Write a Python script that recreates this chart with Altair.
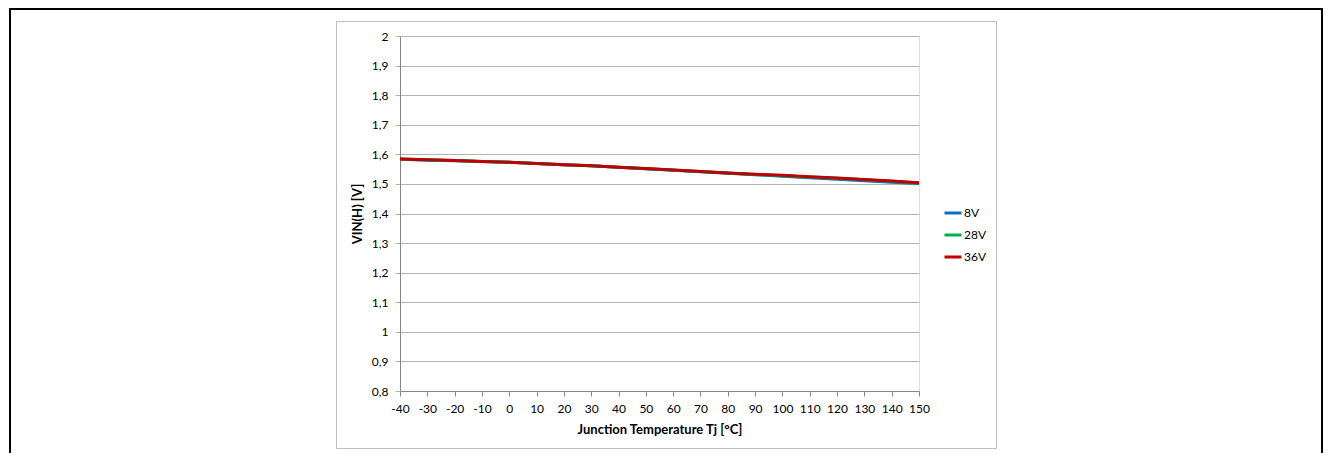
import altair as alt
import pandas as pd

temps = [-40, -30, -20, -10, 0, 10, 20, 30, 40, 50, 60, 70, 80, 90, 100, 110, 120, 130, 140, 150]
v8 = [1.583, 1.580, 1.578, 1.576, 1.573, 1.569, 1.565, 1.561, 1.556, 1.551, 1.546, 1.541, 1.536, 1.531, 1.526, 1.521, 1.516, 1.511, 1.506, 1.501]
v28 = [1.584, 1.582, 1.579, 1.576, 1.573, 1.569, 1.565, 1.561, 1.556, 1.551, 1.547, 1.542, 1.537, 1.532, 1.528, 1.523, 1.519, 1.514, 1.509, 1.503]
v36 = [1.584, 1.582, 1.579, 1.576, 1.573, 1.569, 1.565, 1.561, 1.556, 1.552, 1.547, 1.542, 1.537, 1.533, 1.529, 1.524, 1.520, 1.515, 1.510, 1.504]
series = ["8V", "28V", "36V"]
colors = ["#0070C0", "#00B050", "#C00000"]
y_ticks = [0.8, 0.9, 1.0, 1.1, 1.2, 1.3, 1.4, 1.5, 1.6, 1.7, 1.8, 1.9, 2.0]

rows = []
for name, vals in zip(series, [v8, v28, v36]):
    for t, v in zip(temps, vals):
        rows.append({"T": t, "V": v, "series": name, "order": series.index(name)})
df = pd.DataFrame(rows)

FONT = "Lato"

lines = alt.Chart(df).mark_line(strokeWidth=3, clip=False).encode(
    x=alt.X("T:Q",
            scale=alt.Scale(domain=[-40, 150], nice=False, zero=False),
            axis=alt.Axis(values=temps, title="Junction Temperature Tj [°C]", grid=False,
                          labelExpr="replace(format(datum.value, 'd'), '−', '-')",
                          domainColor="#868686", tickColor="#868686", tickSize=5,
                          labelPadding=7, labelFontSize=12, labelColor="#000000",
                          labelFont=FONT, titleFont=FONT, titleFontSize=13,
                          titleFontWeight="bold", titleColor="#000000", titlePadding=9,
                          labelFlush=False)),
    y=alt.Y("V:Q",
            scale=alt.Scale(domain=[0.8, 2.0], nice=False, zero=False),
            axis=alt.Axis(values=y_ticks, title="VIN(H) [V]",
                          labelExpr="replace(format(datum.value, '.1~f'), '.', ',')",
                          grid=True, gridColor="#b3b3b3", gridWidth=1,
                          domainColor="#868686", tickColor="#b3b3b3", tickSize=5,
                          labelPadding=7, labelFontSize=12, labelColor="#000000",
                          labelFont=FONT, titleFont=FONT, titleFontSize=13,
                          titleFontWeight="bold", titleColor="#000000", titlePadding=7)),
    color=alt.Color("series:N", scale=alt.Scale(domain=series, range=colors),
                    legend=alt.Legend(title=None, orient="none", legendX=543, legendY=167,
                                      symbolType="stroke", symbolSize=289, symbolStrokeWidth=3,
                                      labelFontSize=12, labelFont=FONT, labelColor="#000000",
                                      labelOffset=1, rowPadding=6, padding=0)),
    order=alt.Order("order:Q"),
    detail="series:N",
)

inner_box = alt.Chart(pd.DataFrame({"a": [0]})).mark_rect(
    fill=None, stroke="#bfbfbf", strokeWidth=1, clip=False
).encode(x=alt.value(-63.5), x2=alt.value(596.5), y=alt.value(-14.5), y2=alt.value(412.5))

outer_box = alt.Chart(pd.DataFrame({"a": [0]})).mark_rect(
    fill=None, stroke="#000000", strokeWidth=2, clip=False
).encode(x=alt.value(-390), x2=alt.value(922), y=alt.value(-27), y2=alt.value(460))

chart = alt.layer(outer_box, inner_box, lines).properties(
    width=519, height=355,
    autosize=alt.AutoSizeParams(type="none"),
    padding={"left": 392, "top": 28, "right": 404, "bottom": 62},
).configure_view(stroke=None).configure(background="#ffffff")

chart.save("out.html", embed_options={"renderer": "svg", "actions": False})
